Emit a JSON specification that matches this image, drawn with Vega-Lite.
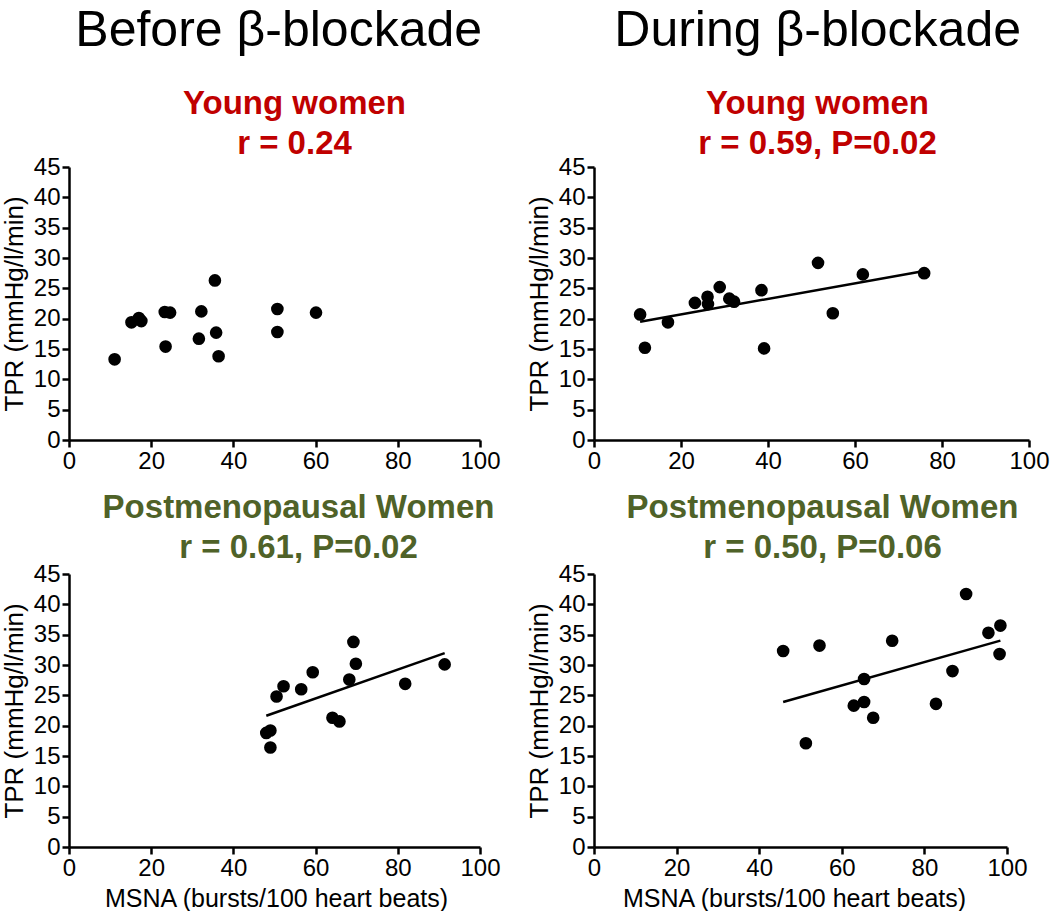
{
  "$schema": "https://vega.github.io/schema/vega-lite/v6.json",
  "padding": {"left": 1, "right": 0, "top": 6, "bottom": 0},
  "background": "white",
  "datasets": {
    "bl_young": [
      {"msna": 11.1, "tpr": 13.3}, {"msna": 15.2, "tpr": 19.4}, {"msna": 17.0, "tpr": 20.1},
      {"msna": 17.6, "tpr": 19.6}, {"msna": 23.3, "tpr": 21.1}, {"msna": 24.6, "tpr": 21.0},
      {"msna": 23.5, "tpr": 15.4}, {"msna": 31.6, "tpr": 16.7}, {"msna": 32.2, "tpr": 21.2},
      {"msna": 35.5, "tpr": 26.3}, {"msna": 35.8, "tpr": 17.7}, {"msna": 36.4, "tpr": 13.8},
      {"msna": 50.7, "tpr": 21.6}, {"msna": 50.7, "tpr": 17.8}, {"msna": 60.1, "tpr": 21.0}
    ],
    "bb_young": [
      {"msna": 10.6, "tpr": 20.7}, {"msna": 11.7, "tpr": 15.2}, {"msna": 17.0, "tpr": 19.4},
      {"msna": 23.2, "tpr": 22.6}, {"msna": 26.1, "tpr": 23.6}, {"msna": 26.2, "tpr": 22.4},
      {"msna": 28.9, "tpr": 25.2}, {"msna": 31.1, "tpr": 23.3}, {"msna": 32.2, "tpr": 22.8},
      {"msna": 38.5, "tpr": 24.7}, {"msna": 39.1, "tpr": 15.1}, {"msna": 51.5, "tpr": 29.2},
      {"msna": 54.9, "tpr": 20.9}, {"msna": 61.8, "tpr": 27.3}, {"msna": 75.9, "tpr": 27.5}
    ],
    "bl_post": [
      {"msna": 48.0, "tpr": 18.8}, {"msna": 49.0, "tpr": 19.2}, {"msna": 49.0, "tpr": 16.4},
      {"msna": 50.5, "tpr": 24.8}, {"msna": 52.2, "tpr": 26.5}, {"msna": 56.5, "tpr": 26.0},
      {"msna": 59.3, "tpr": 28.8}, {"msna": 64.1, "tpr": 21.3}, {"msna": 65.8, "tpr": 20.7},
      {"msna": 68.2, "tpr": 27.6}, {"msna": 69.2, "tpr": 33.8}, {"msna": 69.8, "tpr": 30.2},
      {"msna": 81.8, "tpr": 26.9}, {"msna": 91.4, "tpr": 30.1}
    ],
    "bb_post": [
      {"msna": 45.8, "tpr": 32.3}, {"msna": 51.3, "tpr": 17.1}, {"msna": 54.6, "tpr": 33.2},
      {"msna": 62.9, "tpr": 23.3}, {"msna": 65.4, "tpr": 23.9}, {"msna": 65.4, "tpr": 27.7},
      {"msna": 67.6, "tpr": 21.3}, {"msna": 72.2, "tpr": 34.0}, {"msna": 82.8, "tpr": 23.6},
      {"msna": 86.8, "tpr": 29.0}, {"msna": 90.1, "tpr": 41.7}, {"msna": 95.5, "tpr": 35.3},
      {"msna": 98.4, "tpr": 36.5}, {"msna": 98.2, "tpr": 31.8}
    ]
  },
  "hconcat": [
    {
      "title": {"text": "Before β-blockade", "fontSize": 50, "fontWeight": "normal", "color": "black", "anchor": "middle", "offset": 32, "dx": 28},
      "spacing": 19,
      "vconcat": [
        {
          "width": 411, "height": 273,
          "title": {"text": ["Young women", "r = 0.24"], "color": "#C00000", "fontSize": 33, "fontWeight": "bold", "lineHeight": 40, "dx": 20, "offset": -6, "anchor": "middle"},
          "data": {"name": "bl_young"},
          "mark": {"type": "circle", "size": 160, "color": "black", "opacity": 1},
          "encoding": {
            "x": {"field": "msna", "type": "quantitative", "scale": {"domain": [0, 100], "nice": false}, "axis": {"values": [0, 20, 40, 60, 80, 100], "title": null}},
            "y": {"field": "tpr", "type": "quantitative", "scale": {"domain": [0, 45], "nice": false}, "axis": {"values": [0, 5, 10, 15, 20, 25, 30, 35, 40, 45], "title": "TPR (mmHg/l/min)"}}
          }
        },
        {
          "width": 411, "height": 273,
          "title": {"text": ["Postmenopausal Women", "r = 0.61, P=0.02"], "color": "#4F6228", "fontSize": 33, "fontWeight": "bold", "lineHeight": 40, "dx": 24, "offset": -3, "anchor": "middle"},
          "data": {"name": "bl_post"},
          "encoding": {
            "x": {"field": "msna", "type": "quantitative", "scale": {"domain": [0, 100], "nice": false}, "axis": {"values": [0, 20, 40, 60, 80, 100], "title": "MSNA (bursts/100 heart beats)", "titleX": 207}},
            "y": {"field": "tpr", "type": "quantitative", "scale": {"domain": [0, 45], "nice": false}, "axis": {"values": [0, 5, 10, 15, 20, 25, 30, 35, 40, 45], "title": "TPR (mmHg/l/min)"}}
          },
          "layer": [
            {"mark": {"type": "circle", "size": 160, "color": "black", "opacity": 1}},
            {
              "transform": [{"regression": "tpr", "on": "msna"}],
              "mark": {"type": "line", "color": "black", "strokeWidth": 2.5}
            }
          ]
        }
      ]
    },
    {
      "title": {"text": "During β-blockade", "fontSize": 50, "fontWeight": "normal", "color": "black", "anchor": "middle", "offset": 32, "dx": 30},
      "spacing": 19,
      "vconcat": [
        {
          "width": 435, "height": 273,
          "title": {"text": ["Young women", "r = 0.59, P=0.02"], "color": "#C00000", "fontSize": 33, "fontWeight": "bold", "lineHeight": 40, "dx": 6, "offset": -6, "anchor": "middle"},
          "data": {"name": "bb_young"},
          "encoding": {
            "x": {"field": "msna", "type": "quantitative", "scale": {"domain": [0, 100], "nice": false}, "axis": {"values": [0, 20, 40, 60, 80, 100], "title": null}},
            "y": {"field": "tpr", "type": "quantitative", "scale": {"domain": [0, 45], "nice": false}, "axis": {"values": [0, 5, 10, 15, 20, 25, 30, 35, 40, 45], "title": "TPR (mmHg/l/min)"}}
          },
          "layer": [
            {"mark": {"type": "circle", "size": 160, "color": "black", "opacity": 1}},
            {
              "transform": [{"regression": "tpr", "on": "msna"}],
              "mark": {"type": "line", "color": "black", "strokeWidth": 2.5}
            }
          ]
        },
        {
          "width": 413, "height": 273,
          "title": {"text": ["Postmenopausal Women", "r = 0.50, P=0.06"], "color": "#4F6228", "fontSize": 33, "fontWeight": "bold", "lineHeight": 40, "dx": 22, "offset": -3, "anchor": "middle"},
          "data": {"name": "bb_post"},
          "encoding": {
            "x": {"field": "msna", "type": "quantitative", "scale": {"domain": [0, 100], "nice": false}, "axis": {"values": [0, 20, 40, 60, 80, 100], "title": "MSNA (bursts/100 heart beats)", "titleX": 200}},
            "y": {"field": "tpr", "type": "quantitative", "scale": {"domain": [0, 45], "nice": false}, "axis": {"values": [0, 5, 10, 15, 20, 25, 30, 35, 40, 45], "title": "TPR (mmHg/l/min)"}}
          },
          "layer": [
            {"mark": {"type": "circle", "size": 160, "color": "black", "opacity": 1}},
            {
              "transform": [{"regression": "tpr", "on": "msna"}],
              "mark": {"type": "line", "color": "black", "strokeWidth": 2.5}
            }
          ]
        }
      ]
    }
  ],
  "spacing": 25,
  "resolve": {"scale": {"x": "independent", "y": "independent"}},
  "config": {
    "font": "Liberation Sans",
    "view": {"stroke": null},
    "axis": {
      "grid": false,
      "domainColor": "black",
      "domainWidth": 2.5,
      "tickColor": "black",
      "tickWidth": 2.5,
      "tickSize": 7,
      "labelColor": "black",
      "labelFontSize": 24,
      "labelFont": "Liberation Sans",
      "labelPadding": 2,
      "labelFlush": false,
      "labelOverlap": false,
      "titleColor": "black",
      "titleFontWeight": "normal",
      "titleFont": "Liberation Sans",
      "titlePadding": 6
    },
    "axisX": {"titleFontSize": 25},
    "axisY": {"titleFontSize": 26},
    "title": {"font": "Liberation Sans"}
  }
}
